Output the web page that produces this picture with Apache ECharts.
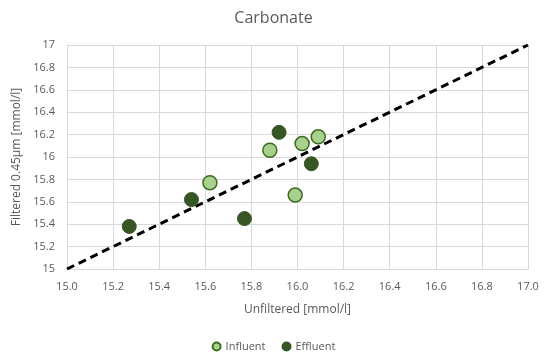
<!DOCTYPE html>
<html>
<head>
<meta charset="utf-8">
<script src="https://cdn.jsdelivr.net/npm/echarts@6/dist/echarts.min.js"></script>
<style>
html,body{margin:0;padding:0;background:#fff;}
#chart{width:547px;height:360px;}
</style>
</head>
<body>
<div id="chart"></div>
<script>
// Carbonate: filtered vs unfiltered concentrations [mmol/l]
const influentX = [15.62, 15.88, 15.99, 16.02, 16.09];
const influentY = [15.77, 16.06, 15.66, 16.12, 16.18];
const effluentX = [15.27, 15.54, 15.77, 15.92, 16.06];
const effluentY = [15.38, 15.62, 15.45, 16.22, 15.94];
const identityLine = [[15, 15], [17, 17]];
const seriesNames = ['Influent', 'Effluent'];

const pairs = (xs, ys) => xs.map((x, i) => [x, ys[i]]);
const textColor = '#595959';
const gridColor = '#d9d9d9';

const chart = echarts.init(document.getElementById('chart'));
chart.setOption({
  animation: false,
  title: {
    text: 'Carbonate',
    left: 'center',
    top: 5,
    textStyle: { fontFamily: 'Open Sans', fontSize: 16, fontWeight: 'normal', color: textColor }
  },
  legend: {
    data: seriesNames,
    bottom: 3,
    left: 'center',
    itemWidth: 8,
    itemHeight: 8,
    itemGap: 16,
    textStyle: { fontFamily: 'Open Sans', fontSize: 11, color: textColor }
  },
  grid: { left: 67, right: 19, top: 45, bottom: 91 },
  xAxis: {
    type: 'value',
    min: 15, max: 17, interval: 0.2,
    name: 'Unfiltered [mmol/l]',
    nameLocation: 'middle',
    nameGap: 35,
    nameTextStyle: { fontFamily: 'Open Sans', fontSize: 12, color: textColor },
    axisLine: { show: true, lineStyle: { color: gridColor } },
    axisTick: { show: false },
    axisLabel: { fontFamily: 'Open Sans', fontSize: 11, color: textColor, margin: 12,
      formatter: v => v.toFixed(1) },
    splitLine: { show: true, lineStyle: { color: gridColor } }
  },
  yAxis: {
    type: 'value',
    min: 15, max: 17, interval: 0.2,
    name: 'Filtered 0.45µm [mmol/l]',
    nameLocation: 'middle',
    nameGap: 42,
    nameTextStyle: { fontFamily: 'Open Sans', fontSize: 12, color: textColor },
    axisLine: { show: true, lineStyle: { color: gridColor } },
    axisTick: { show: false },
    axisLabel: { fontFamily: 'Open Sans', fontSize: 11, color: textColor, margin: 12,
      formatter: v => String(parseFloat(v.toFixed(1))) },
    splitLine: { show: true, lineStyle: { color: gridColor } }
  },
  series: [
    {
      name: 'y = x',
      type: 'line',
      data: identityLine,
      symbol: 'none',
      silent: true,
      lineStyle: { color: '#000', width: 3, type: [8, 5] },
      z: 1
    },
    {
      name: seriesNames[0],
      type: 'scatter',
      data: pairs(influentX, influentY),
      symbol: 'circle',
      symbolSize: 14,
      itemStyle: { color: '#a9d18e', borderColor: '#3d6b22', borderWidth: 1.5, opacity: 1 },
      z: 3
    },
    {
      name: seriesNames[1],
      type: 'scatter',
      data: pairs(effluentX, effluentY),
      symbol: 'circle',
      symbolSize: 14,
      itemStyle: { color: '#375623', borderColor: '#375623', borderWidth: 1, opacity: 1 },
      z: 3
    }
  ]
});
</script>
</body>
</html>
